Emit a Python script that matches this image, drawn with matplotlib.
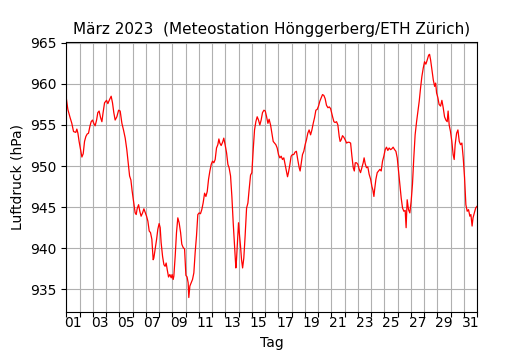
import matplotlib
matplotlib.use('Agg')
import matplotlib.pyplot as plt

# Luftdruck März 2023, Zeit in Tagen seit 1. März 00:00
tag = [
    0.00, 0.12, 0.29, 0.42, 0.55, 0.72, 0.80, 0.88, 0.97, 1.12, 1.18, 1.28, 1.38, 1.48,
    1.58, 1.68, 1.78, 1.88, 1.98, 2.08, 2.18, 2.29, 2.38, 2.48, 2.59, 2.69, 2.78, 2.89,
    3.04, 3.14, 3.27, 3.39, 3.49, 3.59, 3.69, 3.82, 3.95, 4.07, 4.20, 4.32, 4.45, 4.57,
    4.70, 4.78, 4.88, 4.97,
    5.10, 5.20, 5.28, 5.35, 5.46, 5.55, 5.65, 5.76, 5.86, 5.95, 6.06, 6.16, 6.26, 6.36,
    6.46, 6.56, 6.61, 6.71, 6.82, 6.91, 7.01, 7.09, 7.16, 7.27, 7.37, 7.46, 7.54, 7.62,
    7.72, 7.82, 7.92, 7.99, 8.07, 8.12, 8.22, 8.32, 8.42, 8.52, 8.63, 8.72, 8.82, 8.93,
    9.03, 9.12, 9.20, 9.25, 9.33, 9.43, 9.53,
    9.63, 9.73, 9.83, 9.93, 10.03, 10.13, 10.23, 10.33, 10.44, 10.54, 10.64, 10.74, 10.84,
    10.94, 11.04, 11.14, 11.24, 11.34, 11.44, 11.52, 11.59, 11.69, 11.80, 11.89, 11.99,
    12.10, 12.20, 12.29, 12.40, 12.50, 12.60, 12.70, 12.80, 12.85, 12.93, 13.00, 13.08,
    13.15, 13.23, 13.31, 13.40, 13.50, 13.61, 13.71, 13.80, 13.91, 14.01, 14.11, 14.21,
    14.31, 14.41, 14.51, 14.61, 14.71, 14.81, 14.92,
    15.02, 15.12, 15.22, 15.31, 15.42, 15.52, 15.62, 15.72, 15.82, 15.92, 16.02, 16.12,
    16.22, 16.32, 16.42, 16.52, 16.62, 16.70, 16.77, 16.88, 16.97, 17.07, 17.17, 17.27,
    17.37, 17.47, 17.58, 17.65, 17.72, 17.83, 17.93, 18.03, 18.13, 18.23, 18.33, 18.44,
    18.54, 18.64, 18.74, 18.84, 18.94, 19.04, 19.14, 19.24, 19.34, 19.44, 19.54,
    19.64, 19.75, 19.85, 19.95, 20.10, 20.20, 20.29, 20.40, 20.50, 20.60, 20.67, 20.75,
    20.85, 20.95, 21.05, 21.16, 21.26, 21.35, 21.46, 21.56, 21.66, 21.74, 21.81, 21.91,
    22.01, 22.11, 22.21, 22.31, 22.41, 22.48, 22.56, 22.66, 22.76, 22.86, 22.97, 23.07,
    23.14, 23.22, 23.27, 23.37, 23.47, 23.57, 23.67, 23.77, 23.87, 23.97, 24.07, 24.17,
    24.27, 24.37, 24.48,
    24.57, 24.67, 24.78, 24.88, 24.98, 25.08, 25.18, 25.28, 25.38, 25.48, 25.58, 25.65,
    25.73, 25.83, 25.93, 26.03, 26.13, 26.23, 26.33, 26.44, 26.54, 26.64, 26.74, 26.84,
    26.94, 27.04, 27.14, 27.24, 27.35, 27.42, 27.50, 27.60, 27.70, 27.80, 27.88, 27.95,
    28.05, 28.14, 28.25, 28.35, 28.45, 28.55, 28.65, 28.75, 28.82, 28.90, 29.00, 29.10,
    29.20, 29.28, 29.35, 29.46, 29.56, 29.66, 29.76, 29.86, 29.96, 30.06, 30.16, 30.26,
    30.36, 30.46, 30.54, 30.63, 30.70, 30.80, 30.90, 31.00,
]

druck = [
    958.3, 956.9, 955.9, 955.2, 954.2, 954.1, 954.5, 954.0, 953.0, 951.6, 951.1, 951.5, 953.0, 953.6,
    953.9, 954.0, 954.8, 955.4, 955.6, 955.2, 954.9, 955.6, 956.5, 956.7, 955.9, 955.4, 956.5, 957.7,
    958.0, 957.6, 958.1, 958.5, 957.7, 956.5, 955.6, 956.0, 956.8, 956.7, 955.2, 954.4, 953.4, 952.0,
    950.0, 948.8, 948.3, 947.0,
    945.5, 944.3, 944.1, 944.8, 945.3, 944.5, 943.9, 944.3, 944.8, 944.4, 943.9, 943.3, 942.1, 941.9,
    941.1, 938.6, 938.8, 939.9, 941.1, 942.3, 943.0, 942.5, 940.7, 939.0, 938.0, 937.8, 938.2, 937.4,
    936.5, 936.8, 936.4, 936.8, 936.2, 936.6, 939.0, 941.9, 943.7, 943.1, 941.9, 940.5, 940.1, 939.9,
    936.7, 936.5, 935.8, 934.0, 935.4, 935.8, 936.2,
    937.0, 939.5, 941.5, 944.1, 944.3, 944.2, 944.7, 945.5, 946.7, 946.3, 946.9, 948.4, 949.4,
    950.2, 950.6, 950.4, 950.8, 952.2, 952.6, 953.3, 952.8, 952.5, 952.9, 953.4, 952.6,
    951.6, 950.2, 949.8, 948.8, 946.3, 943.1, 940.3, 937.6, 938.6, 941.1, 943.1, 941.5,
    940.3, 938.6, 937.6, 938.8, 941.5, 944.9, 945.5, 947.1, 948.9, 949.2, 952.0, 954.4,
    955.4, 956.0, 955.6, 955.0, 955.6, 956.5, 956.8,
    956.7, 956.0, 955.2, 955.7, 955.0, 954.0, 953.0, 952.8, 952.6, 952.2, 951.4, 951.0,
    951.2, 950.8, 951.0, 950.2, 949.4, 948.7, 949.2, 950.2, 951.2, 951.4, 951.4, 951.7,
    951.8, 950.8, 949.8, 949.4, 950.2, 951.4, 951.8, 952.6, 953.2, 954.0, 954.4, 953.8,
    954.4, 955.2, 955.9, 956.8, 956.9, 957.3, 957.9, 958.3, 958.7, 958.6, 958.2,
    957.4, 957.1, 957.2, 957.0, 956.0, 955.4, 955.3, 955.4, 955.0, 953.6, 953.0, 953.2,
    953.7, 953.5, 953.2, 952.8, 952.9, 952.9, 952.8, 951.2, 949.8, 949.4, 950.4, 950.4,
    950.2, 949.6, 949.2, 949.8, 950.4, 951.0, 950.3, 949.8, 949.9, 949.0, 948.4, 947.5,
    947.1, 946.3, 947.1, 948.4, 949.2, 949.4, 949.6, 949.4, 950.6, 951.2, 952.0, 952.3,
    951.9, 952.2, 952.0,
    952.1, 952.3, 952.0, 951.8, 951.0, 949.4, 947.8, 946.1, 944.9, 944.5, 944.6, 942.5,
    945.9, 944.7, 944.3, 945.7, 947.8, 951.0, 953.8, 955.4, 956.7, 957.9, 959.5, 960.9,
    961.9, 962.7, 962.4, 962.9, 963.5, 963.6, 962.9, 961.7, 960.5, 959.7, 960.1, 958.9,
    958.3, 957.5, 957.3, 958.0, 957.1, 956.0, 955.6, 955.4, 956.7, 955.0, 954.2, 953.0,
    951.4, 950.8, 952.6, 954.0, 954.4, 953.0, 952.6, 952.8, 951.0, 948.6, 945.3, 944.5,
    944.7, 943.9, 944.1, 942.7, 943.7, 944.3, 944.9, 945.1,
]

tage = list(range(1, 32))
tag_labels = ['%02d' % t for t in tage[::2]]

fig, ax = plt.subplots(figsize=(5.3, 3.5), dpi=100)
ax.plot(tag, druck, color='red', linewidth=0.9)

# Tagesgrenzen als Ticks mit Gitter, Beschriftung in der Tagesmitte
ax.set_xticks(range(0, 32))
ax.set_xticklabels([])
ax.set_xticks([t - 0.5 for t in tage[::2]], minor=True)
ax.set_xticklabels(tag_labels, minor=True)
ax.tick_params(axis='x', which='minor', length=0)
ax.set_xlim(0, 31)

ax.set_yticks(range(935, 966, 5))
ax.set_ylim(932.3, 965.1)

ax.grid(True, which='major', color='#b0b0b0', linewidth=0.8)
ax.set_axisbelow(True)

ax.set_title('März 2023  (Meteostation Hönggerberg/ETH Zürich)', fontsize=11)
ax.set_xlabel('Tag')
ax.set_ylabel('Luftdruck (hPa)')

fig.savefig('out.png', dpi=100)
